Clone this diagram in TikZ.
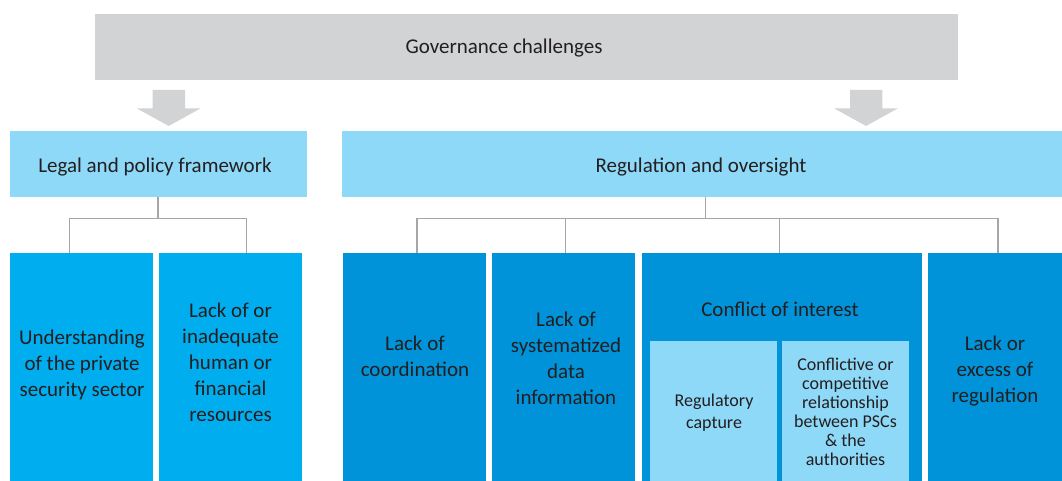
\documentclass[tikz,border=0pt]{standalone}
\usepackage{fontspec}
\setmainfont{Carlito}
\definecolor{govgray}{HTML}{D1D3D4}
\definecolor{lightblue}{HTML}{8ED8F8}
\definecolor{cyanbox}{HTML}{00ADEE}
\definecolor{darkbox}{HTML}{0093D9}
\definecolor{linegray}{HTML}{A6A6A6}
\definecolor{txt}{HTML}{231F20}
\tikzset{
  box/.style={anchor=north west, inner sep=0pt, outer sep=0pt, draw=none},
  lbl/.style={text=txt, align=center, inner sep=0pt, font=\fontsize{21}{26}\selectfont},
  small/.style={text=txt, align=center, inner sep=0pt},
  conn/.style={draw=linegray, line width=1.5pt},
  blockarrow/.style={fill=govgray, draw=none}
}
\begin{document}
\begin{tikzpicture}[x=1pt,y=-1pt]
\useasboundingbox (0,0) rectangle (1062,481);
% top box
\node[box, fill=govgray, minimum width=863pt, minimum height=66pt] (gov) at (95,14) {};
\node[lbl] (govt) at (504,48) {Governance challenges};
% block arrows
\fill[blockarrow] (152.7,90) -- (185,90) -- (185,108.3) -- (200.7,108.3) -- (168.7,126) -- (136.7,108.3) -- (152.7,108.3) -- cycle;
\fill[blockarrow] (850,90) -- (882.3,90) -- (882.3,108.3) -- (898,108.3) -- (866,126) -- (834,108.3) -- (850,108.3) -- cycle;
% second row
\node[box, fill=lightblue, minimum width=297pt, minimum height=66pt] (legal) at (10,131) {};
\node[lbl] (legalt) at (155,167) {Legal and policy framework};
\node[box, fill=lightblue, minimum width=720pt, minimum height=66pt] (reg) at (342,131) {};
\node[lbl] (regt) at (701,167) {Regulation and oversight};
% lower boxes
\node[box, fill=cyanbox, minimum width=143pt, minimum height=229pt] (b1) at (10,252.7) {};
\node[box, fill=cyanbox, minimum width=143pt, minimum height=229pt] (b2) at (159,252.7) {};
\node[box, fill=darkbox, minimum width=143pt, minimum height=229pt] (b3) at (343,252.7) {};
\node[box, fill=darkbox, minimum width=143pt, minimum height=229pt] (b4) at (492,252.7) {};
\node[box, fill=darkbox, minimum width=280pt, minimum height=229pt] (b5) at (641.5,252.7) {};
\node[box, fill=darkbox, minimum width=135pt, minimum height=229pt] (b6) at (927.8,252.7) {};
\node[box, fill=lightblue, minimum width=127pt, minimum height=141pt] (i1) at (650,340.7) {};
\node[box, fill=lightblue, minimum width=127pt, minimum height=141pt] (i2) at (782,340.7) {};
% texts
\node[lbl] (t1) at (82,365) {Understanding\\of the private\\security sector};
\node[lbl] (t2) at (230.5,362) {Lack of or\\inadequate\\human or\\financial\\resources};
\node[lbl] (t3) at (415,356) {Lack of\\coordination};
\node[lbl] (t4) at (566,358) {Lack of\\systematized\\data\\information};
\node[lbl] (t5) at (780,309) {Conflict of interest};
\node[lbl] (t6) at (995,371) {Lack or\\excess of\\regulation};
\node[small, font=\fontsize{18}{22}\selectfont] (t7) at (714,413) {Regulatory\\capture};
\node[small, font=\fontsize{18}{19}\selectfont] (t8) at (845.5,412) {Conflictive or\\competitive\\relationship\\between PSCs\\\& the\\authorities};
% connectors
\coordinate (jl) at (158,218.7);
\coordinate (c1) at (69.5,252.7);
\coordinate (c2) at (246.5,252.7);
\draw[conn] (legal.south -| jl) -- (jl);
\draw[conn] (c1) |- (jl) -| (c2);
\coordinate (jr) at (705.6,218.7);
\coordinate (d1) at (417,252.7);
\coordinate (d2) at (565.4,252.7);
\coordinate (d3) at (779.4,252.7);
\coordinate (d4) at (998,252.7);
\draw[conn] (reg.south -| jr) -- (jr);
\draw[conn] (d1) |- (jr) -| (d4);
\draw[conn] (d2) -- (d2 |- jr);
\draw[conn] (d3) -- (d3 |- jr);
\end{tikzpicture}
\end{document}
